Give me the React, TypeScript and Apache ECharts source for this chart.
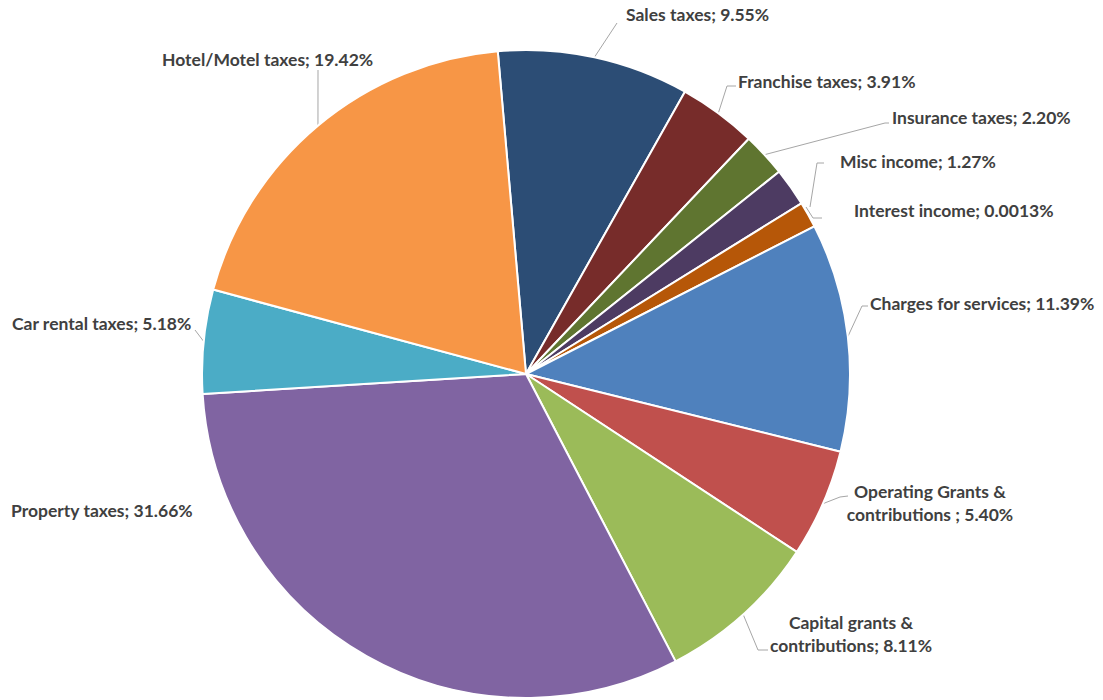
import React, { useEffect, useRef } from "react";
import * as echarts from "echarts";

const categories = [
  "Sales taxes",
  "Franchise taxes",
  "Insurance taxes",
  "Misc income",
  "Interest income",
  "Charges for services",
  "Operating Grants &\ncontributions ",
  "Capital grants &\ncontributions",
  "Property taxes",
  "Car rental taxes",
  "Hotel/Motel taxes",
];
// percentages as printed in the labels
const labelPercents = ["9.55%", "3.91%", "2.20%", "1.27%", "0.0013%", "11.39%", "5.40%", "8.11%", "31.66%", "5.18%", "19.42%"];
// slice sizes as drawn in the picture
const sliceValues = [9.55, 3.91, 2.2, 1.9, 1.3, 11.39, 5.4, 8.11, 31.66, 5.18, 19.42];
const colors = ["#2C4D75", "#772C2A", "#5F7530", "#4D3B62", "#B65708", "#4F81BD", "#C0504D", "#9BBB59", "#8064A2", "#4BACC6", "#F79646"];

// label placement (styling/layout only)
type LabelPos = { x: number; y: number; align: "left" | "center" | "right"; start?: number[]; pts: number[][]; line: boolean };
const labelPlacement: LabelPos[] = [
  { x: 626, y: 14, align: "left", pts: [[617, 23]], line: true },
  { x: 738, y: 81, align: "left", pts: [[727, 86], [736, 86]], line: true },
  { x: 892, y: 117, align: "left", pts: [[885, 123], [889, 123]], line: true },
  { x: 840, y: 161, align: "left", start: [810, 207], pts: [[817, 163], [824, 163]], line: true },
  { x: 854, y: 210, align: "left", start: [806, 207], pts: [[813, 218], [822, 218]], line: true },
  { x: 870, y: 303, align: "left", pts: [[862, 306], [868, 306]], line: true },
  { x: 930, y: 503, align: "center", pts: [[840, 497], [848, 496]], line: true },
  { x: 851, y: 634, align: "center", pts: [[758, 650], [768, 650]], line: true },
  { x: 11, y: 510, align: "left", pts: [], line: false },
  { x: 12, y: 323, align: "left", pts: [[195, 330]], line: true },
  { x: 162, y: 59, align: "left", pts: [[318, 70]], line: true },
];

export default function App() {
  const ref = useRef<HTMLDivElement>(null);
  useEffect(() => {
    document.body.style.margin = "0";
    const chart = echarts.init(ref.current!, null, { renderer: "svg" });
    chart.setOption({
      animation: false,
      backgroundColor: "#ffffff",
      series: [
        {
          type: "pie",
          center: [526, 374],
          radius: 324,
          startAngle: 95,
          clockwise: true,
          avoidLabelOverlap: false,
          itemStyle: { borderColor: "#ffffff", borderWidth: 2 },
          label: {
            show: true,
            position: "outer",
            color: "#404040",
            fontFamily: "Lato",
            fontWeight: "bold",
            fontSize: 17.5,
            lineHeight: 23,
            formatter: (p: any) => `${p.name}; ${labelPercents[p.dataIndex]}`,
          },
          labelLine: { show: true, lineStyle: { color: "#A6A6A6", width: 1 } },
          labelLayout: (params: any) => {
            const L = labelPlacement[params.dataIndex];
            const first = L.start ?? (params.labelLinePoints ? params.labelLinePoints[0] : null);
            const res: any = { x: L.x, y: L.y, align: L.align, verticalAlign: "middle" };
            if (L.line && first) res.labelLinePoints = [first, ...L.pts];
            return res;
          },
          data: categories.map((name, i) => ({
            name,
            value: sliceValues[i],
            itemStyle: { color: colors[i] },
            labelLine: { show: labelPlacement[i].line },
            label: { align: labelPlacement[i].align },
          })),
        },
      ],
    });
    return () => chart.dispose();
  }, []);
  return <div ref={ref} style={{ width: 1103, height: 700 }} />;
}
